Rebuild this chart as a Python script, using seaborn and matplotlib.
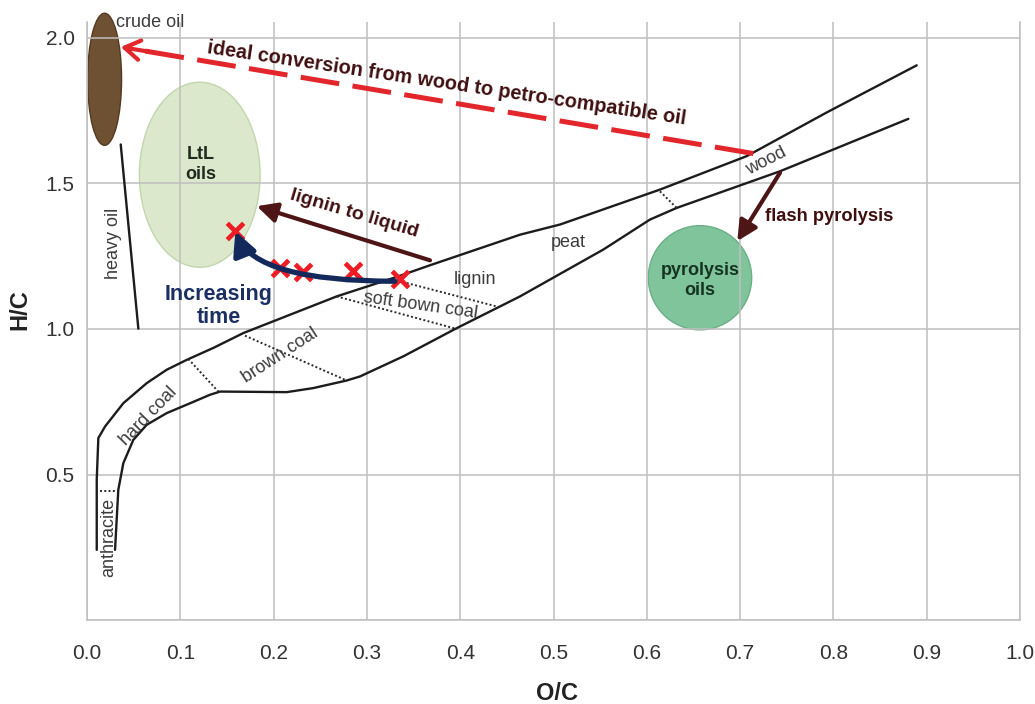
import matplotlib
matplotlib.use("Agg")
import matplotlib.pyplot as plt
from matplotlib.patches import Ellipse
import seaborn as sns

# --- Van Krevelen band boundaries (O/C, H/C) ---
upper_oc = [0.0104, 0.0104, 0.0121, 0.0193, 0.0389, 0.0640, 0.0854, 0.1069, 0.1354,
            0.1675, 0.2676, 0.3319, 0.3676, 0.4641, 0.5070, 0.6141, 0.7071, 0.7928, 0.8893]
upper_hc = [0.241, 0.482, 0.625, 0.665, 0.745, 0.814, 0.860, 0.894, 0.935,
            0.986, 1.112, 1.179, 1.219, 1.324, 1.359, 1.479, 1.594, 1.744, 1.906]
lower_oc = [0.0300, 0.0335, 0.0389, 0.0496, 0.0640, 0.0854, 0.1069, 0.1318, 0.1426, 0.2140,
            0.2426, 0.2783, 0.2926, 0.3390, 0.3963, 0.4641, 0.5534, 0.6034, 0.6320, 0.7428, 0.8803]
lower_hc = [0.241, 0.447, 0.539, 0.619, 0.671, 0.711, 0.740, 0.774, 0.785, 0.783,
            0.797, 0.823, 0.837, 0.906, 1.003, 1.112, 1.273, 1.376, 1.416, 1.542, 1.722]

# boundaries between fuel classes inside the band: (oc0, hc0, oc1, hc1)
divider_oc0 = [0.0139, 0.1086, 0.1693, 0.2676, 0.3427, 0.6141]
divider_hc0 = [0.445, 0.897, 0.977, 1.112, 1.158, 1.473]
divider_oc1 = [0.0335, 0.1407, 0.2783, 0.3963, 0.4408, 0.6320]
divider_hc1 = [0.445, 0.785, 0.823, 1.000, 1.076, 1.416]

heavy_oil_oc = [0.0361, 0.0550]
heavy_oil_hc = [1.634, 1.001]

# lignin-to-liquid samples over reaction time
sample_oc = [0.159, 0.207, 0.232, 0.285, 0.335]
sample_hc = [1.336, 1.210, 1.195, 1.198, 1.172]

# product regions: (centre oc, centre hc, width, height)
crude_oil = (0.0188, 1.858, 0.0364, 0.454)
ltl_oils = (0.1208, 1.530, 0.1294, 0.636)
pyrolysis_oils = (0.657, 1.176, 0.1108, 0.358)

# conversion routes: (start oc, start hc, end oc, end hc)
ideal_route = (0.7142, 1.603, 0.0361, 1.969)
lignin_route = (0.3676, 1.236, 0.1819, 1.422)
flash_route = (0.7428, 1.537, 0.6970, 1.302)
time_route = (0.330, 1.164, 0.159, 1.336)

x_ticks = [0.0, 0.1, 0.2, 0.3, 0.4, 0.5, 0.6, 0.7, 0.8, 0.9, 1.0]
y_ticks = [0.0, 0.5, 1.0, 1.5, 2.0]
y_tick_labels = ["", "0.5", "1.0", "1.5", "2.0"]

sns.set_theme(style="whitegrid")
plt.rcParams["font.family"] = ["Liberation Sans", "DejaVu Sans"]

BLACK = "#1c1c1c"
GREY_TXT = "#3c3c3c"
RED = "#e3262b"
MAROON = "#4e1517"
MAROON_TXT = "#3f0f10"
NAVY = "#13295b"
GRID = "#bfbfbf"

fig = plt.figure(figsize=(10.35, 7.04), dpi=100)
ax = fig.add_axes([0.0841, 0.1193, 0.9014, 0.8495])
ax.set_xlim(0, 1.0)
ax.set_ylim(0, 2.055)
ax.set_axisbelow("line")
ax.grid(True, color=GRID, lw=1.1)
ax.set_xticks(x_ticks)
ax.set_xticklabels([f"{v:.1f}" for v in x_ticks])
ax.set_yticks(y_ticks)
ax.set_yticklabels(y_tick_labels)
ax.tick_params(axis="both", length=0, labelsize=15, labelcolor="#333333")
ax.tick_params(axis="x", pad=17)
ax.tick_params(axis="y", pad=9)
for side in ["left", "right", "bottom"]:
    ax.spines[side].set_color(GRID)
    ax.spines[side].set_linewidth(1.1)
ax.spines["top"].set_visible(False)
ax.set_xlabel("")
ax.set_ylabel("")

# product regions
def region(spec, face, edge, clip=True):
    e = Ellipse((spec[0], spec[1]), spec[2], spec[3], facecolor=face, edgecolor=edge,
                lw=1.0, zorder=1, clip_on=clip)
    ax.add_patch(e)

region(crude_oil, "#6e5133", "#54391f", clip=False)
region(ltl_oils, "#dce8cb", "#c2d6ae")
region(pyrolysis_oils, "#80c49c", "#6cae88")

# band boundaries
sns.lineplot(x=upper_oc, y=upper_hc, sort=False, estimator=None, color=BLACK, lw=1.7, ax=ax, zorder=3)
sns.lineplot(x=lower_oc, y=lower_hc, sort=False, estimator=None, color=BLACK, lw=1.7, ax=ax, zorder=3)
sns.lineplot(x=heavy_oil_oc, y=heavy_oil_hc, sort=False, estimator=None, color=BLACK, lw=1.7, ax=ax, zorder=3)
for a, b, c, d in zip(divider_oc0, divider_hc0, divider_oc1, divider_hc1):
    ax.plot([a, c], [b, d], color="#2a2a2a", lw=1.4, ls=(0, (1, 1.2)), zorder=3)

# ideal conversion route (dashed, red)
ax.plot([ideal_route[0], ideal_route[2] + 0.004], [ideal_route[1], ideal_route[3] - 0.002],
        color=RED, lw=3.6, dashes=(7.8, 2.7), solid_capstyle="butt", zorder=5)
ax.annotate("", xy=(ideal_route[2], ideal_route[3]),
            xytext=(ideal_route[2] + 0.03, ideal_route[3] - 0.016),
            arrowprops=dict(arrowstyle="->,head_length=0.55,head_width=0.35", color=RED,
                            lw=3.0, shrinkA=0, shrinkB=0, mutation_scale=20), zorder=5)

# lignin to liquid and flash pyrolysis routes
for r in (lignin_route, flash_route):
    ax.annotate("", xy=(r[2], r[3]), xytext=(r[0], r[1]),
                arrowprops=dict(arrowstyle="-|>,head_length=0.6,head_width=0.3", color=MAROON,
                                lw=3.0, shrinkA=0, shrinkB=0, mutation_scale=20), zorder=5)

# samples and time trajectory
sns.scatterplot(x=sample_oc, y=sample_hc, marker="x", s=140, color="#ee1c24",
                linewidth=3.4, ax=ax, zorder=6)
ax.annotate("", xy=(time_route[2], time_route[3]), xytext=(time_route[0], time_route[1]),
            arrowprops=dict(arrowstyle="-|>,head_length=0.7,head_width=0.35", color=NAVY,
                            lw=3.8, shrinkA=0, shrinkB=0, mutation_scale=20,
                            connectionstyle="angle3,angleA=0,angleB=112"), zorder=7)

# text annotations
ax.text(0.0311, 2.054, "crude oil", fontsize=13, color=GREY_TXT, ha="left", va="center", clip_on=False)
ax.text(0.3853, 1.843, "ideal conversion from wood to petro-compatible oil", fontsize=14.3,
        fontweight="bold", color=MAROON_TXT, ha="center", va="center", rotation=-8.5,
        rotation_mode="anchor")
ax.text(0.1222, 1.565, "LtL\noils", fontsize=13, fontweight="bold", color="#1e2b1e",
        ha="center", va="center", linespacing=1.2)
ax.text(0.2862, 1.397, "lignin to liquid", fontsize=14, fontweight="bold", color=MAROON_TXT,
        ha="center", va="center", rotation=-16.5, rotation_mode="anchor")
ax.text(0.7953, 1.386, "flash pyrolysis", fontsize=13.2, fontweight="bold", color=MAROON_TXT,
        ha="center", va="center")
ax.text(0.657, 1.166, "pyrolysis\noils", fontsize=13, fontweight="bold", color="#163322",
        ha="center", va="center", linespacing=1.2)
ax.text(0.1415, 1.080, "Increasing\ntime", fontsize=15.5, fontweight="bold", color="#1b2f63",
        ha="center", va="center", linespacing=1.15)

band_labels = [
    ("anthracite", 0.0228, 0.285, 90),
    ("hard coal", 0.0657, 0.702, 46),
    ("brown coal", 0.2069, 0.908, 33),
    ("soft bown coal", 0.3572, 1.080, -8),
    ("lignin", 0.4159, 1.170, 0),
    ("peat", 0.5155, 1.297, 0),
    ("wood", 0.7285, 1.577, 27),
    ("heavy oil", 0.0279, 1.293, 90),
]
for label, xo, yo, rot in band_labels:
    ax.text(xo, yo, label, fontsize=13, color=GREY_TXT, ha="center", va="center",
            rotation=rot, rotation_mode="anchor")

fig.text(556.7 / 1035, 1 - 693 / 704, "O/C", fontsize=17, fontweight="bold", color="#222222",
         ha="center", va="center")
fig.text(20 / 1035, 1 - 310 / 704, "H/C", fontsize=17, fontweight="bold", color="#222222",
         ha="center", va="center", rotation=90)

fig.savefig("out.png", dpi=100, facecolor="white")
